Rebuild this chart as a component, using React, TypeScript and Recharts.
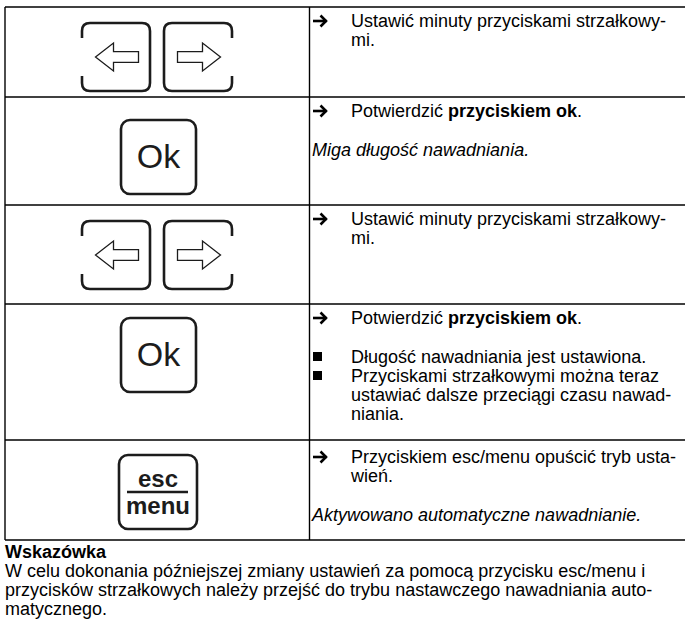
import React from 'react';
import { Surface, Layer, Rectangle, Polygon, Text } from 'recharts';

/**
 * Instrukcja ustawiania czasu nawadniania – tabela kroków z przyciskami.
 * Rysowane w całości na recharts Surface.
 */

type Run = { t: string; b?: boolean };
type Block = { mark?: 'arrow' | 'bullet'; italic?: boolean; gap?: boolean; lines: (string | Run[])[] };

// --- treść ---
const keyKinds = ['arrows', 'ok', 'arrows', 'ok', 'esc'];
const stepArrowLines = ['Ustawić minuty przyciskami strzałkowy-', 'mi.'];
const confirmRuns: Run[] = [{ t: 'Potwierdzić ' }, { t: 'przyciskiem ok', b: true }, { t: '.' }];
const blinkNote = 'Miga długość nawadniania.';
const doneBullets = [
  ['Długość nawadniania jest ustawiona.'],
  ['Przyciskami strzałkowymi można teraz', 'ustawiać dalsze przeciągi czasu nawad-', 'niania.'],
];
const exitLines = ['Przyciskiem esc/menu opuścić tryb usta-', 'wień.'];
const autoNote = 'Aktywowano automatyczne nawadnianie.';
const hintTitle = 'Wskazówka';
const hintLines = [
  'W celu dokonania późniejszej zmiany ustawień za pomocą przycisku esc/menu i',
  'przycisków strzałkowych należy przejść do trybu nastawczego nawadniania auto-',
  'matycznego.',
];

const rowBlocks: Block[][] = [
  [{ mark: 'arrow', lines: stepArrowLines }],
  [{ mark: 'arrow', lines: [confirmRuns] }, { gap: true, italic: true, lines: [blinkNote] }],
  [{ mark: 'arrow', lines: stepArrowLines }],
  [
    { mark: 'arrow', lines: [confirmRuns] },
    { gap: true, mark: 'bullet', lines: doneBullets[0] },
    { mark: 'bullet', lines: doneBullets[1] },
  ],
  [{ mark: 'arrow', lines: exitLines }, { gap: true, italic: true, lines: [autoNote] }],
];

// --- układ ---
const W = 685;
const H = 631;
const rowEdges = [7, 97, 205, 304, 440, 540];
const firstBase = [20, 20, 20, 20, 23];
const tableLeft = 5;
const colX = 309.5;
const textX = 351;
const noteX = 312;
const FONT = '"Liberation Sans", Arial, Helvetica, sans-serif';
const FS = 18;
const LH = 19;
const GAP = 20;
const INK = '#000';
const KEY = '#1c1c1c';

function ArrowMark({ y }: { y: number }) {
  const c = y - 6;
  return (
    <g stroke={INK} strokeWidth={2.6} fill="none" strokeLinejoin="miter" strokeLinecap="butt">
      <line x1={313} y1={c} x2={326.5} y2={c} />
      <polyline points={`${320.5},${c - 5.5} ${326},${c} ${320.5},${c + 5.5}`} />
    </g>
  );
}

function BulletMark({ y }: { y: number }) {
  return <rect x={313} y={y - 11} width={9} height={9} fill={INK} />;
}

function LineText({ x, y, line, italic }: { x: number; y: number; line: string | Run[]; italic?: boolean }) {
  const runs: Run[] = typeof line === 'string' ? [{ t: line }] : line;
  return (
    <text x={x} y={y} fontSize={FS} fontFamily={FONT} fill={INK} fontStyle={italic ? 'italic' : 'normal'} style={{ whiteSpace: 'pre' }}>
      {runs.map((r, i) => (
        <tspan key={i} fontWeight={r.b ? 'bold' : 'normal'}>
          {r.t}
        </tspan>
      ))}
    </text>
  );
}

function bracketPath(x: number, y: number, w: number, h: number, openLeft: boolean) {
  const r = 8;
  const g = 15;
  if (openLeft) {
    return [
      `M${x},${y + g}`,
      `L${x},${y + r}`,
      `Q${x},${y} ${x + r},${y}`,
      `L${x + w - r},${y}`,
      `Q${x + w},${y} ${x + w},${y + r}`,
      `L${x + w},${y + h - r}`,
      `Q${x + w},${y + h} ${x + w - r},${y + h}`,
      `L${x + r},${y + h}`,
      `Q${x},${y + h} ${x},${y + h - r}`,
      `L${x},${y + h - g}`,
    ].join(' ');
  }
  return [
    `M${x + w},${y + g}`,
    `L${x + w},${y + r}`,
    `Q${x + w},${y} ${x + w - r},${y}`,
    `L${x + r},${y}`,
    `Q${x},${y} ${x},${y + r}`,
    `L${x},${y + h - r}`,
    `Q${x},${y + h} ${x + r},${y + h}`,
    `L${x + w - r},${y + h}`,
    `Q${x + w},${y + h} ${x + w},${y + h - r}`,
    `L${x + w},${y + h - g}`,
  ].join(' ');
}

function arrowPts(cx: number, cy: number, dir: 1 | -1) {
  const p = [
    [-21, 0],
    [-3, -14],
    [-3, -5.3],
    [22, -5.3],
    [22, 5.3],
    [-3, 5.3],
    [-3, 14],
  ];
  return p.map(([dx, dy]) => ({ x: cx + dx * dir, y: cy + dy }));
}

function ArrowKeys({ top }: { top: number }) {
  const y = top + 16;
  const h = 68;
  const lx = 82;
  const rx = 164;
  const w = 68;
  return (
    <Layer>
      <path d={bracketPath(lx, y, w, h, true)} fill="none" stroke={KEY} strokeWidth={2.6} />
      <path d={bracketPath(rx, y, w, h, false)} fill="none" stroke={KEY} strokeWidth={2.6} />
      <Polygon points={arrowPts(lx + w / 2 + 0.5, y + h / 2, 1)} fill="#fff" stroke={KEY} strokeWidth={1.3} />
      <Polygon points={arrowPts(rx + w / 2 + 1.5, y + h / 2, -1)} fill="#fff" stroke={KEY} strokeWidth={1.3} />
    </Layer>
  );
}

function OkKey({ top, offset }: { top: number; offset: number }) {
  const y = top + offset;
  return (
    <Layer>
      <Rectangle x={121} y={y} width={75} height={74} radius={9} fill="none" stroke={KEY} strokeWidth={2.6} />
      <Text x={158.5} y={y + 48} textAnchor="middle" fontSize={34} fontFamily={FONT} fill={KEY}>
        Ok
      </Text>
    </Layer>
  );
}

function EscKey({ top }: { top: number }) {
  const y = top + 15;
  return (
    <Layer>
      <Rectangle x={119} y={y} width={78} height={74} radius={9} fill="none" stroke={KEY} strokeWidth={2.6} />
      <text x={158} y={y + 32} textAnchor="middle" fontSize={24} fontWeight="bold" fontFamily={FONT} fill={KEY}>
        esc
      </text>
      <line x1={127} x2={188} y1={y + 37} y2={y + 37} stroke={KEY} strokeWidth={2.6} />
      <text x={158} y={y + 59} textAnchor="middle" fontSize={24} fontWeight="bold" fontFamily={FONT} fill={KEY}>
        menu
      </text>
    </Layer>
  );
}

function RowText({ top, first, blocks }: { top: number; first: number; blocks: Block[] }) {
  let y = top + first;
  const out: React.ReactNode[] = [];
  blocks.forEach((b, bi) => {
    if (b.gap) y += GAP;
    b.lines.forEach((ln, li) => {
      if (li === 0 && b.mark === 'arrow') out.push(<ArrowMark key={`m${bi}`} y={y} />);
      if (li === 0 && b.mark === 'bullet') out.push(<BulletMark key={`m${bi}`} y={y} />);
      out.push(<LineText key={`${bi}-${li}`} x={b.mark ? textX : noteX} y={y} line={ln} italic={b.italic} />);
      y += LH;
    });
  });
  return <Layer>{out}</Layer>;
}

export default function App() {
  const bottom = rowEdges[rowEdges.length - 1];
  return (
    <div style={{ position: 'absolute', left: 0, top: 0, width: W, height: H, background: '#fff' }}>
      <Surface width={W} height={H} viewBox={{ x: 0, y: 0, width: W, height: H }}>
        <rect x={0} y={0} width={W} height={H} fill="#fff" />
        <Layer>
          {rowEdges.map((y) => (
            <line key={y} x1={tableLeft} x2={W} y1={y} y2={y} stroke={INK} strokeWidth={1.4} />
          ))}
          <line x1={tableLeft} x2={tableLeft} y1={rowEdges[0]} y2={bottom} stroke={INK} strokeWidth={1.4} />
          <line x1={colX} x2={colX} y1={rowEdges[0]} y2={bottom} stroke={INK} strokeWidth={1.4} />
        </Layer>
        {keyKinds.map((k, i) => {
          const top = rowEdges[i];
          if (k === 'arrows') return <ArrowKeys key={i} top={top} />;
          if (k === 'ok') return <OkKey key={i} top={top} offset={i === 1 ? 23 : 14} />;
          return <EscKey key={i} top={top} />;
        })}
        {rowBlocks.map((blocks, i) => (
          <RowText key={i} top={rowEdges[i]} first={firstBase[i]} blocks={blocks} />
        ))}
        <Layer>
          <text x={tableLeft} y={bottom + 18} fontSize={FS} fontWeight="bold" fontFamily={FONT} fill={INK}>
            {hintTitle}
          </text>
          {hintLines.map((ln, i) => (
            <text key={i} x={tableLeft} y={bottom + 37 + i * 19} fontSize={FS} fontFamily={FONT} fill={INK}>
              {ln}
            </text>
          ))}
        </Layer>
      </Surface>
    </div>
  );
}
